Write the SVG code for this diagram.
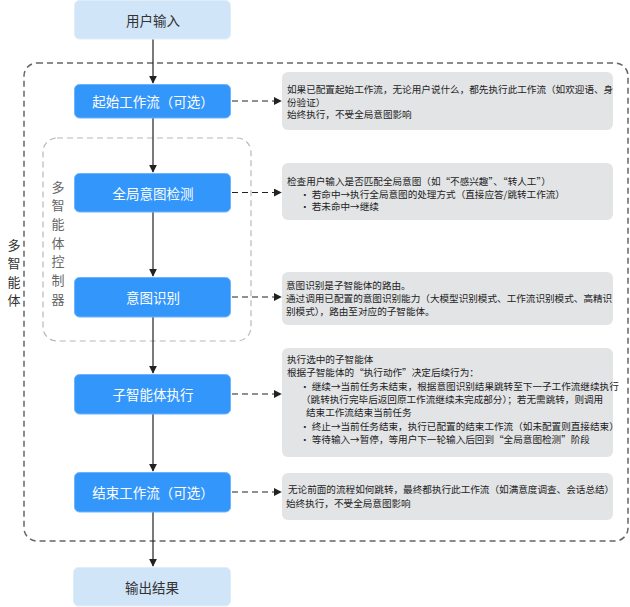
<svg xmlns="http://www.w3.org/2000/svg" width="630" height="607" viewBox="0 0 630 607">
<style>
text{font-family:"Noto Sans CJK SC","Noto Sans",sans-serif;}
.node rect.b{fill:#3396fb;stroke:#6cb4ff;stroke-width:1;}
.node rect.l{fill:#d1e5f8;stroke:#dfeefb;stroke-width:1;}
.nt{font-size:13.5px;fill:#ffffff;text-anchor:middle;dominant-baseline:central;}
.lt{font-size:13.5px;fill:#333333;text-anchor:middle;dominant-baseline:central;}
.note rect{fill:#e2e4e6;}
.tx{font-size:9.6px;fill:#222222;dominant-baseline:central;}
.flow{stroke:#222;stroke-width:1.2;fill:none;marker-end:url(#ah);}
.dash{stroke:#222;stroke-width:1.2;fill:none;stroke-dasharray:6 4;marker-end:url(#ah);}
.vl{font-size:13px;text-anchor:middle;dominant-baseline:central;}
</style>
<defs>
<marker id="ah" viewBox="0 0 10 10" refX="9" refY="5" markerWidth="8" markerHeight="8" markerUnits="userSpaceOnUse" orient="auto">
<path d="M0,0 L10,5 L0,10 z" fill="#222"/>
</marker>
</defs>
<g id="outer-group">
<rect x="24" y="63" width="604" height="478" rx="13" fill="none" stroke="#666" stroke-width="1.5" stroke-dasharray="6 4"/>
<text class="vl" fill="#333" x="14" y="244">多</text>
<text class="vl" fill="#333" x="14" y="262.5">智</text>
<text class="vl" fill="#333" x="14" y="281">能</text>
<text class="vl" fill="#333" x="14" y="299.5">体</text>
</g>
<g id="controller-group">
<rect x="43" y="138" width="208" height="203" rx="14" fill="none" stroke="#b8b8b8" stroke-width="1.2" stroke-dasharray="6 4"/>
<text class="vl" fill="#666" x="58" y="186">多</text>
<text class="vl" fill="#666" x="58" y="204.7">智</text>
<text class="vl" fill="#666" x="58" y="223.4">能</text>
<text class="vl" fill="#666" x="58" y="242">体</text>
<text class="vl" fill="#666" x="58" y="260.7">控</text>
<text class="vl" fill="#666" x="58" y="279.4">制</text>
<text class="vl" fill="#666" x="58" y="298">器</text>
</g>
<g id="connectors">
<line class="flow" x1="153" y1="39" x2="153" y2="83"/>
<line class="flow" x1="153" y1="118" x2="153" y2="172"/>
<line class="flow" x1="153" y1="212" x2="153" y2="276"/>
<line class="flow" x1="153" y1="317" x2="153" y2="373"/>
<line class="flow" x1="153" y1="414" x2="153" y2="471"/>
<line class="flow" x1="153" y1="512" x2="153" y2="566"/>
<line class="dash" x1="232" y1="101" x2="281" y2="101"/>
<line class="dash" x1="232" y1="192.5" x2="281" y2="192.5"/>
<line class="dash" x1="232" y1="297" x2="281" y2="297"/>
<line class="dash" x1="232" y1="394" x2="281" y2="394"/>
<line class="dash" x1="232" y1="492" x2="281" y2="492"/>
</g>
<g id="user-input" class="node">
<rect class="l" x="74.5" y="0.5" width="156" height="38.5" rx="5"/>
<text class="lt" x="153" y="19.5">用户输入</text>
</g>
<g id="start-workflow" class="node">
<rect class="b" x="74.5" y="84.5" width="156" height="33.5" rx="5"/>
<text class="nt" x="153" y="101">起始工作流（可选）</text>
</g>
<g id="global-intent" class="node">
<rect class="b" x="74.5" y="173.5" width="156" height="38.5" rx="5"/>
<text class="nt" x="153" y="192.5">全局意图检测</text>
</g>
<g id="intent-recognition" class="node">
<rect class="b" x="74.5" y="277.5" width="156" height="39.5" rx="5"/>
<text class="nt" x="153" y="297">意图识别</text>
</g>
<g id="sub-agent" class="node">
<rect class="b" x="74.5" y="374.5" width="156" height="39.5" rx="5"/>
<text class="nt" x="153" y="394">子智能体执行</text>
</g>
<g id="end-workflow" class="node">
<rect class="b" x="74.5" y="472.5" width="156" height="39.5" rx="5"/>
<text class="nt" x="153" y="492">结束工作流（可选）</text>
</g>
<g id="output" class="node">
<rect class="l" x="73.5" y="567.5" width="157" height="38.5" rx="5"/>
<text class="lt" x="152" y="586.5">输出结果</text>
</g>
<g id="note-start" class="note">
<rect x="282" y="72" width="331" height="58" rx="6"/>
<text class="tx" x="287" y="89">如果已配置起始工作流，无论用户说什么，都先执行此工作流（如欢迎语、身</text>
<text class="tx" x="287" y="101.5">份验证）</text>
<text class="tx" x="287" y="114">始终执行，不受全局意图影响</text>
</g>
<g id="note-global" class="note">
<rect x="282" y="163" width="331" height="57" rx="6"/>
<text class="tx" x="287" y="181">检查用户输入是否匹配全局意图（如“不感兴趣”、“转人工”）</text>
<text class="tx" x="300" y="193.5">• 若命中→执行全局意图的处理方式（直接应答/跳转工作流）</text>
<text class="tx" x="300" y="206">• 若未命中→继续</text>
</g>
<g id="note-intent" class="note">
<rect x="282" y="272" width="331" height="53" rx="6"/>
<text class="tx" x="286" y="285">意图识别是子智能体的路由。</text>
<text class="tx" x="286" y="297.5">通过调用已配置的意图识别能力（大模型识别模式、工作流识别模式、高精识</text>
<text class="tx" x="286" y="310.5">别模式），路由至对应的子智能体。</text>
</g>
<g id="note-sub" class="note">
<rect x="282" y="348" width="331" height="109" rx="6"/>
<text class="tx" x="287" y="359">执行选中的子智能体</text>
<text class="tx" x="287" y="371.5">根据子智能体的“执行动作”决定后续行为：</text>
<text class="tx" x="300" y="386">• 继续→当前任务未结束，根据意图识别结果跳转至下一子工作流继续执行</text>
<text class="tx" x="301" y="399">（跳转执行完毕后返回原工作流继续未完成部分）；若无需跳转，则调用</text>
<text class="tx" x="306" y="412">结束工作流结束当前任务</text>
<text class="tx" x="300" y="426">• 终止→当前任务结束，执行已配置的结束工作流（如未配置则直接结束）</text>
<text class="tx" x="300" y="439">•  等待输入→暂停，等用户下一轮输入后回到“全局意图检测”阶段</text>
</g>
<g id="note-end" class="note">
<rect x="282" y="473" width="331" height="47" rx="6"/>
<text class="tx" x="288" y="489">无论前面的流程如何跳转，最终都执行此工作流（如满意度调查、会话总结）</text>
<text class="tx" x="286" y="503">始终执行，不受全局意图影响</text>
</g>
</svg>
